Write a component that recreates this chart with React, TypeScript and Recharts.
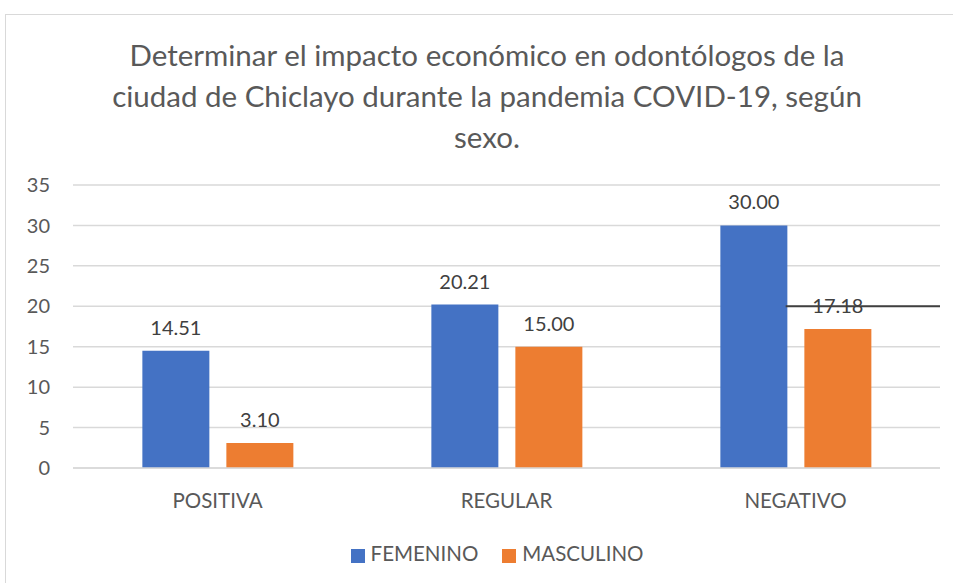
import {
  BarChart,
  Bar,
  XAxis,
  YAxis,
  CartesianGrid,
  Legend,
  LabelList,
  ReferenceLine,
} from "recharts";

const categories = ["POSITIVA", "REGULAR", "NEGATIVO"];
const femenino = [14.51, 20.21, 30.0];
const masculino = [3.1, 15.0, 17.18];
const yTicks = [0, 5, 10, 15, 20, 25, 30, 35];

const data = categories.map((name, i) => ({
  name,
  FEMENINO: femenino[i],
  MASCULINO: masculino[i],
}));

const FONT = "Lato, 'Open Sans', sans-serif";
const TEXT = "#595959";

// the stray dark rule crossing the last group at y = 20
const StrayLine = (p: any) => {
  const start = p.x1 + (p.x2 - p.x1) * 0.822;
  return <line x1={start} y1={p.y1} x2={p.x2} y2={p.y2} stroke="#404040" strokeWidth={2} />;
};

export default function App() {
  return (
    <div
      style={{
        position: "absolute",
        left: 5,
        top: 14,
        width: 960,
        height: 580,
        border: "1px solid #d9d9d9",
        background: "#fff",
        fontFamily: FONT,
      }}
    >
      <div
        style={{
          position: "absolute",
          left: 0,
          top: 19,
          width: 962,
          textAlign: "center",
          fontSize: 29.5,
          lineHeight: "41px",
          color: TEXT,
        }}
      >
        Determinar el impacto económico en odontólogos de la
        <br />
        ciudad de Chiclayo durante la pandemia COVID-19, según
        <br />
        sexo.
      </div>
      <BarChart
        width={947}
        height={568}
        data={data}
        margin={{ top: 170, right: 13, left: 0, bottom: 18 }}
        barCategoryGap="24%"
        barGap={17}
      >
        <CartesianGrid vertical={false} stroke="#d9d9d9" strokeWidth={1.5} />
        <XAxis
          dataKey="name"
          axisLine={{ stroke: "#d9d9d9", strokeWidth: 1.5 }}
          tickLine={false}
          tickMargin={19}
          height={73}
          tick={{ fill: TEXT, fontSize: 20.5, fontFamily: FONT }}
        />
        <YAxis
          width={67}
          domain={[0, 35]}
          ticks={yTicks}
          axisLine={false}
          tickLine={false}
          tickMargin={17}
          tick={{ fill: TEXT, fontSize: 20, fontFamily: FONT }}
        />
        <Legend
          verticalAlign="bottom"
          iconType="square"
          iconSize={14}
          wrapperStyle={{ fontSize: 20.5, fontFamily: FONT, left: 36 }}
          formatter={(v: string) => (
            <span style={{ color: TEXT, marginLeft: 2, marginRight: 14 }}>{v}</span>
          )}
        />
        <ReferenceLine y={20} shape={StrayLine} />
        <Bar dataKey="FEMENINO" fill="#4472C4" isAnimationActive={false}>
          <LabelList
            dataKey="FEMENINO"
            position="top"
            offset={16}
            formatter={(v: any) => Number(v).toFixed(2)}
            style={{ fill: "#404040", fontSize: 20, fontFamily: FONT }}
          />
        </Bar>
        <Bar dataKey="MASCULINO" fill="#ED7D31" isAnimationActive={false}>
          <LabelList
            dataKey="MASCULINO"
            position="top"
            offset={16}
            formatter={(v: any) => Number(v).toFixed(2)}
            style={{ fill: "#404040", fontSize: 20, fontFamily: FONT }}
          />
        </Bar>
      </BarChart>
    </div>
  );
}
